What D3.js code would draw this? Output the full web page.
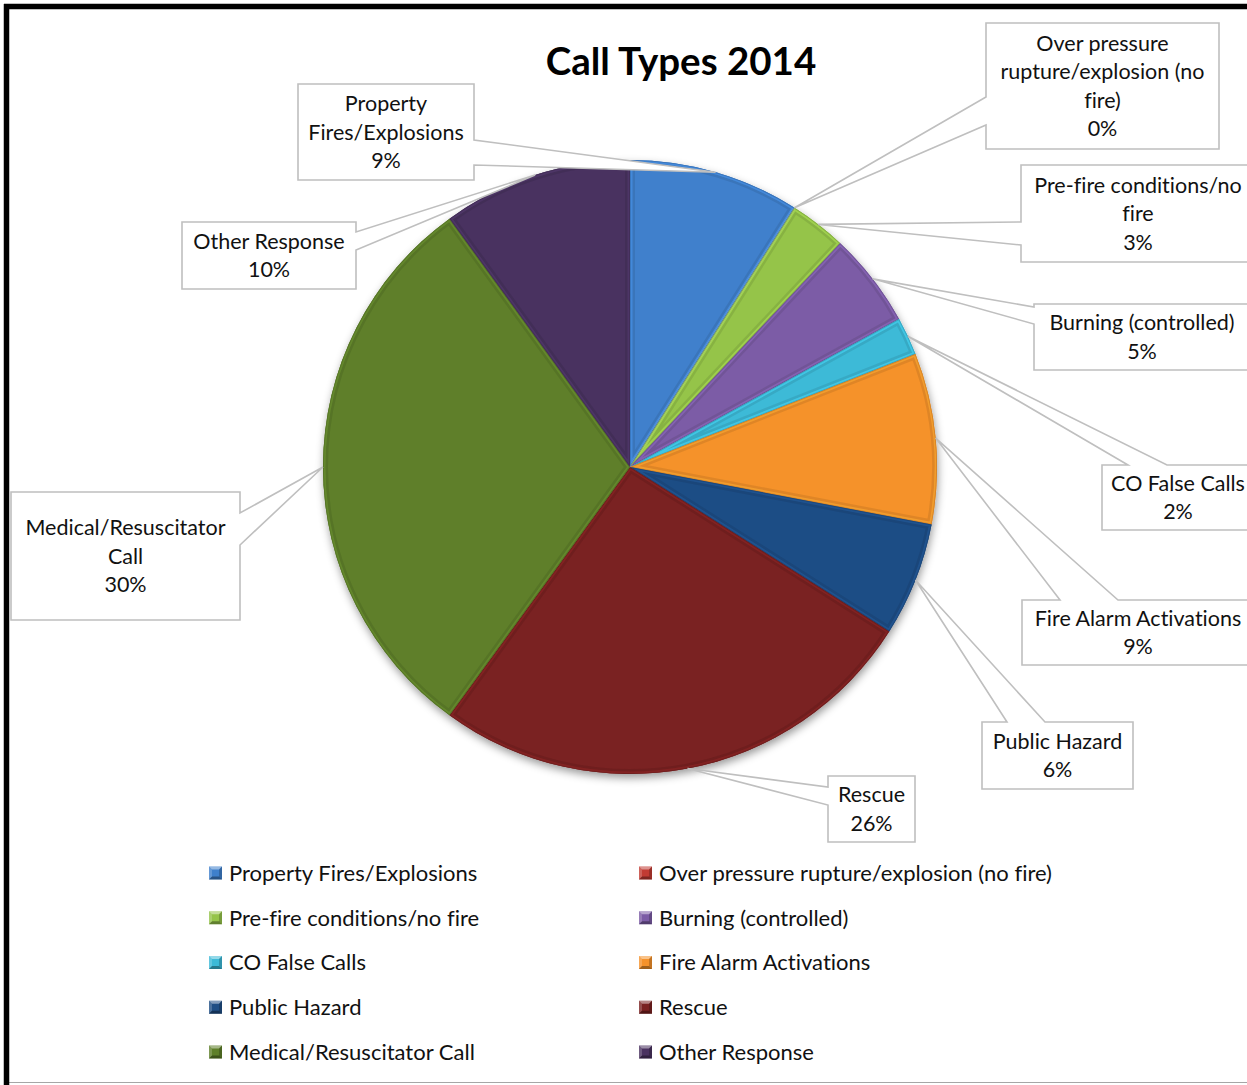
<!DOCTYPE html>
<html>
<head>
<meta charset="utf-8">
<script src="https://cdn.jsdelivr.net/npm/d3@7"></script>
<style>
  html, body { margin: 0; padding: 0; background: #fff; }
  svg { display: block; }
  text { font-family: Lato, "Open Sans", sans-serif; fill: #111; font-variant-ligatures: none; }
</style>
</head>
<body>
<svg id="chart" width="1247" height="1085"></svg>
<script>
// ---- data ----
const categories = [
  "Property Fires/Explosions",
  "Over pressure rupture/explosion (no fire)",
  "Pre-fire conditions/no fire",
  "Burning (controlled)",
  "CO False Calls",
  "Fire Alarm Activations",
  "Public Hazard",
  "Rescue",
  "Medical/Resuscitator Call",
  "Other Response"
];
const shares = [9, 0, 3, 5, 2, 9, 6, 26, 30, 10];
const sliceColors = [
  "#3f80cc", "#c23b33", "#95c44a", "#7c5ca6", "#3dbad7",
  "#f5922b", "#1f4e85", "#7a2121", "#5e7f29", "#4a3260"
];
const chartTitle = "Call Types 2014";

// wrapped label text for each callout (name lines, the share line is added below)
const labelLines = [
  ["Property", "Fires/Explosions"],
  ["Over pressure", "rupture/explosion (no", "fire)"],
  ["Pre-fire conditions/no", "fire"],
  ["Burning (controlled)"],
  ["CO False Calls"],
  ["Fire Alarm Activations"],
  ["Public Hazard"],
  ["Rescue"],
  ["Medical/Resuscitator", "Call"],
  ["Other Response"]
];

// ---- layout ----
const W = 1247, H = 1085;
const cx = 630, cy = 467, R = 307;

// callout boxes: box rect, which side holds the pointer, and the pointer's base span
const calloutLayout = [
  { x: 298,  y: 84,  w: 176, h: 96,  side: "right", n1: 140, n2: 165 },
  { x: 986,  y: 23,  w: 233, h: 126, side: "left",  n1: 97,  n2: 125 },
  { x: 1021, y: 165, w: 234, h: 97,  side: "left",  n1: 222, n2: 245 },
  { x: 1034, y: 304, w: 216, h: 66,  side: "left",  n1: 307, n2: 324 },
  { x: 1102, y: 465, w: 152, h: 65,  side: "top",   n1: 1128, n2: 1167 },
  { x: 1022, y: 600, w: 232, h: 65,  side: "top",   n1: 1060, n2: 1118 },
  { x: 982,  y: 722, w: 151, h: 67,  side: "top",   n1: 1007, n2: 1045 },
  { x: 828,  y: 776, w: 87,  h: 66,  side: "left",  n1: 787, n2: 805 },
  { x: 11,   y: 492, w: 229, h: 128, side: "right", n1: 513, n2: 545 },
  { x: 182,  y: 222, w: 174, h: 67,  side: "right", n1: 232, n2: 250 }
];
const labelFont = 21.5, labelLead = 28.5;

const svg = d3.select("#chart");
const defs = svg.append("defs");

// soft shadow under the pie
const shadow = defs.append("filter").attr("id", "pieShadow")
  .attr("x", "-10%").attr("y", "-10%").attr("width", "120%").attr("height", "125%");
shadow.append("feDropShadow")
  .attr("dx", 1).attr("dy", 4).attr("stdDeviation", 4)
  .attr("flood-color", "#000").attr("flood-opacity", 0.4);

// frame
svg.append("rect").attr("x", 0).attr("y", 0).attr("width", W).attr("height", H).attr("fill", "#fff");
svg.append("line").attr("x1", 9).attr("x2", W).attr("y1", 1082.5).attr("y2", 1082.5)
  .attr("stroke", "#a6a6a6").attr("stroke-width", 1);
svg.append("line").attr("x1", 4).attr("x2", W).attr("y1", 6.5).attr("y2", 6.5)
  .attr("stroke", "#000").attr("stroke-width", 5.5);
svg.append("line").attr("x1", 6.5).attr("x2", 6.5).attr("y1", 4).attr("y2", H)
  .attr("stroke", "#000").attr("stroke-width", 5.5);

// title
svg.append("text")
  .attr("x", 681).attr("y", 61).attr("dy", "0.36em")
  .attr("text-anchor", "middle")
  .style("font-size", "38.5px").style("font-weight", "bold")
  .style("fill", "#000")
  .text(chartTitle);

// ---- pie ----
const data = categories.map((c, i) => ({ name: c, value: shares[i], color: sliceColors[i], idx: i }));
const pie = d3.pie().sort(null).value(d => d.value).startAngle(0).endAngle(2 * Math.PI);
const arcs = pie(data);
const arc = d3.arc().innerRadius(0).outerRadius(R);
const edgeArc = d3.arc().innerRadius(R).outerRadius(R);

const pieG = svg.append("g").attr("transform", `translate(${cx},${cy})`);
const shadowG = pieG.append("g").attr("filter", "url(#pieShadow)");
shadowG.selectAll("path.base").data(arcs).join("path")
  .attr("class", "base")
  .attr("d", arc)
  .attr("fill", d => d.data.color);

arcs.forEach((d, i) => {
  defs.append("clipPath").attr("id", "clip" + i)
    .append("path").attr("d", arc(d)).attr("transform", `translate(${cx},${cy})`);
});

const sliceG = svg.append("g");
arcs.forEach((d, i) => {
  const p = arc(d);
  const g = sliceG.append("g").attr("clip-path", `url(#clip${i})`)
    .append("g").attr("transform", `translate(${cx},${cy})`);
  if (d.data.value > 0) {
    // bevel: soft dark band, light inner rim, thin dark edge
    g.append("path").attr("d", p).attr("fill", "none")
      .attr("stroke", d3.color(d.data.color).darker(0.7)).attr("stroke-opacity", 0.4).attr("stroke-width", 10);
    g.append("path").attr("d", p).attr("fill", "none")
      .attr("stroke", d3.color(d.data.color).brighter(0.5)).attr("stroke-opacity", 0.55).attr("stroke-width", 5);
    g.append("path").attr("d", p).attr("fill", "none")
      .attr("stroke", d3.color(d.data.color).darker(0.6)).attr("stroke-opacity", 0.7).attr("stroke-width", 1.5);
  }
});
// zero-sized slice shows as a thin line along its boundary
pieG.selectAll("path.zero").data(arcs.filter(d => d.data.value === 0)).join("path")
  .attr("class", "zero")
  .attr("d", arc)
  .attr("fill", "none")
  .attr("stroke", "#c9c9c9")
  .attr("stroke-width", 2.5);

// ---- callouts ----
function calloutPath(b, ax, ay) {
  const x0 = b.x, y0 = b.y, x1 = b.x + b.w, y1 = b.y + b.h;
  if (b.side === "right")
    return `M${x0},${y0}H${x1}V${b.n1}L${ax},${ay}L${x1},${b.n2}V${y1}H${x0}Z`;
  if (b.side === "left")
    return `M${x0},${y0}H${x1}V${y1}H${x0}V${b.n2}L${ax},${ay}L${x0},${b.n1}Z`;
  return `M${x0},${y0}H${b.n1}L${ax},${ay}L${b.n2},${y0}H${x1}V${y1}H${x0}Z`;
}

const calloutG = svg.append("g");
arcs.forEach((d, i) => {
  const b = calloutLayout[i];
  const mid = edgeArc.centroid(d);
  const ax = cx + mid[0], ay = cy + mid[1];
  calloutG.append("path")
    .attr("d", calloutPath(b, ax, ay))
    .attr("fill", "#fff")
    .attr("stroke", "#bfbfbf")
    .attr("stroke-width", 1.6)
    .attr("stroke-linejoin", "miter");
  const lines = labelLines[i].concat([d.data.value + "%"]);
  const tx = b.x + b.w / 2;
  const firstY = b.y + b.h / 2 - (lines.length - 1) * labelLead / 2;
  const t = calloutG.append("text")
    .attr("text-anchor", "middle")
    .style("font-size", labelFont + "px");
  lines.forEach((ln, k) => {
    t.append("tspan").attr("x", tx).attr("y", firstY + k * labelLead).attr("dy", "0.36em").text(ln);
  });
});

// ---- legend ----
const legendCols = [209, 639];
const rowY = d3.scaleLinear().domain([0, 4]).range([873, 1052]);
const legendG = svg.append("g");
data.forEach((d, i) => {
  const x = legendCols[i % 2], y = rowY(Math.floor(i / 2));
  const s = 13, mx = x, my = y - s / 2;
  const g = legendG.append("g");
  g.append("rect").attr("x", mx).attr("y", my).attr("width", s).attr("height", s).attr("fill", d.color);
  // bevelled marker edges
  g.append("path").attr("d", `M${mx},${my}H${mx + s}L${mx + s - 3},${my + 3}H${mx + 3}Z`)
    .attr("fill", "#fff").attr("fill-opacity", 0.45);
  g.append("path").attr("d", `M${mx},${my}L${mx + 3},${my + 3}V${my + s - 3}L${mx},${my + s}Z`)
    .attr("fill", "#fff").attr("fill-opacity", 0.2);
  g.append("path").attr("d", `M${mx},${my + s}H${mx + s}L${mx + s - 3},${my + s - 3}H${mx + 3}Z`)
    .attr("fill", "#000").attr("fill-opacity", 0.35);
  g.append("path").attr("d", `M${mx + s},${my}L${mx + s - 3},${my + 3}V${my + s - 3}L${mx + s},${my + s}Z`)
    .attr("fill", "#000").attr("fill-opacity", 0.2);
  g.append("text")
    .attr("x", x + 20).attr("y", y).attr("dy", "0.36em")
    .style("font-size", "22px")
    .text(d.name);
});
</script>
</body>
</html>
